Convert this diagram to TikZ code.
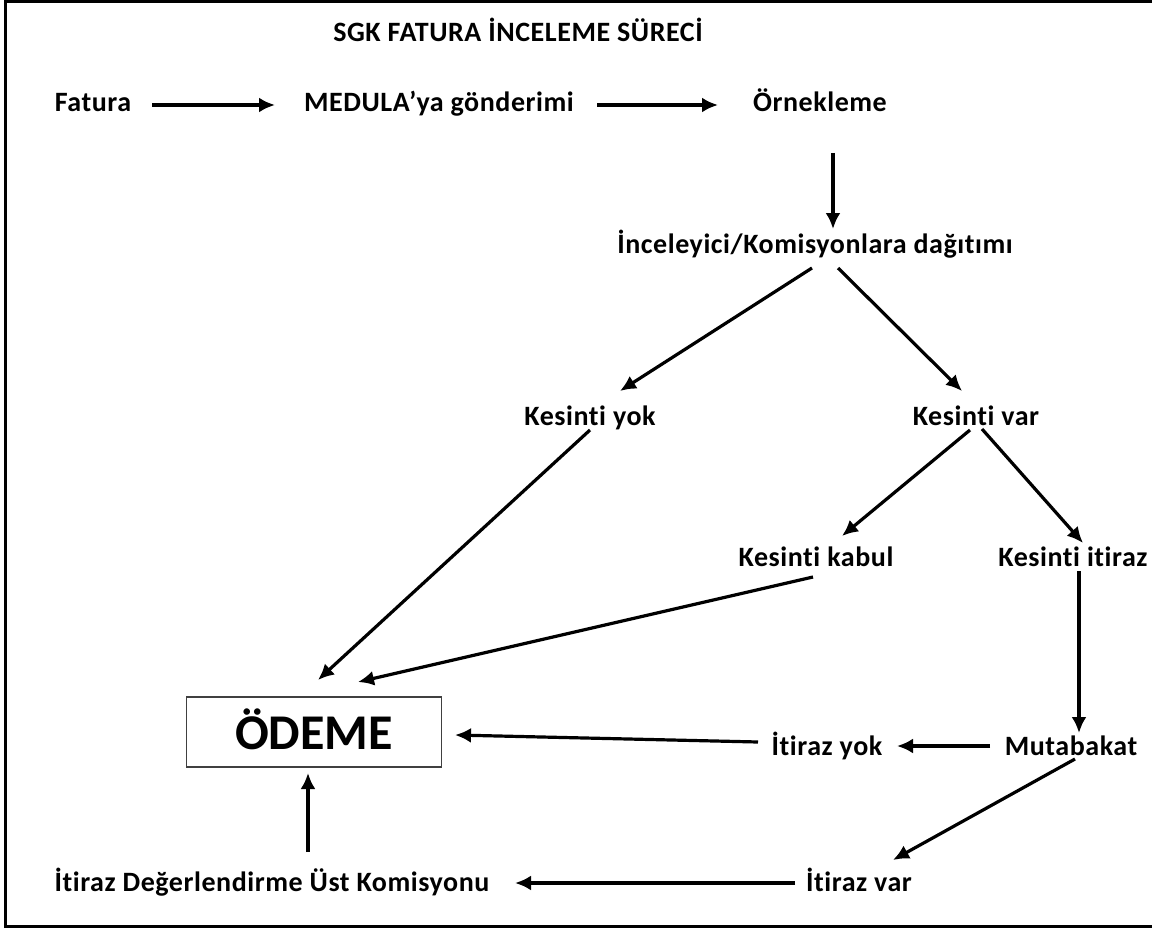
\documentclass[tikz,border=0pt]{standalone}
\usepackage{fontspec}
\setmainfont{Carlito}[Ligatures=NoCommon]
\newfontfamily\labelfont{Carlito}[LetterSpace=2, Ligatures=NoCommon]
\usetikzlibrary{arrows.meta}

\begin{document}
\begin{tikzpicture}
	  [x=1pt,y=-1pt,every path/.style={>={Latex[length=16pt,width=15pt]}},
	   every node/.style={font=\labelfont\fontsize{28}{30}\selectfont\bfseries, inner sep=0pt,
	                      text height=19pt, text depth=6pt},
	   link/.style={->, line width=3.2pt}]
	  \useasboundingbox (0,0) rectangle (1152,931);
	  \draw[line width=3pt] (5,2) rectangle (1170,926);

	  \node (title) at (518,35) {SGK FATURA İNCELEME SÜRECİ};
	  \node (fat)    at (93,105)   {Fatura};
	  \node (med)    at (439,105)  {MEDULA’ya gönderimi};
	  \node (orn)    at (820,105)  {Örnekleme};
	  \node (ince)   at (815,247)  {İnceleyici/Komisyonlara dağıtımı};
	  \node (kyok)   at (590,419)  {Kesinti yok};
	  \node (kvar)   at (976,419)  {Kesinti var};
	  \node (kkabul) at (816,560)  {Kesinti kabul};
	  \node (kit)    at (1073,560) {Kesinti itiraz};
	  \node (iyok)   at (827,749)  {İtiraz yok};
	  \node (mut)    at (1071,749) {Mutabakat};
	  \node (ivar)   at (859,885)  {İtiraz var};
	  \node (ust)    at (272,885)  {İtiraz Değerlendirme Üst Komisyonu};
	  \node[draw=black!75, line width=1.6pt, minimum width=255pt, minimum height=70pt,
	        text height=34pt, text depth=0pt,
	        font=\fontsize{50}{55}\selectfont\bfseries] (odeme) at (314,732) {ÖDEME};

	  \draw[link] ([shift={(59,0)}]fat.center)    -- ([shift={(-164,0)}]med.center);
	  \draw[link] ([shift={(158,0)}]med.center)    -- ([shift={(-102,0)}]orn.center);
	  \draw[link] ([shift={(13,48)}]orn.center)    -- ([shift={(18,-18)}]ince.center);
	  \draw[link] ([shift={(-3,21)}]ince.center)   -- ([shift={(30,-28)}]kyok.center);
	  \draw[link] ([shift={(23,21)}]ince.center)   -- ([shift={(-14,-28)}]kvar.center);
	  \draw[link] ([shift={(0,11)}]kyok.center)    -- ([shift={(4,-52)}]odeme.center);
	  \draw[link] ([shift={(-6,11)}]kvar.center)   -- ([shift={(26,-24)}]kkabul.center);
	  \draw[link] ([shift={(6,10)}]kvar.center)    -- ([shift={(10,-17)}]kit.center);
	  \draw[link] ([shift={(-3,17)}]kkabul.center) -- ([shift={(44,-50)}]odeme.center);
	  \draw[link] ([shift={(6,11)}]kit.center)     -- ([shift={(8,-16)}]mut.center);
	  \draw[link] ([shift={(-81,-3)}]mut.center)   -- ([shift={(70,-3)}]iyok.center);
	  \draw[link] ([shift={(-69,-7)}]iyok.center)  -- ([shift={(141,3)}]odeme.center);
	  \draw[link] ([shift={(4,10)}]mut.center)     -- ([shift={(34,-25)}]ivar.center);
	  \draw[link] ([shift={(-64,-2)}]ivar.center)  -- ([shift={(243,-2)}]ust.center);
	  \draw[link] ([shift={(36,-33)}]ust.center)   -- ([shift={(-6,41)}]odeme.center);
	\end{tikzpicture}
\end{document}
